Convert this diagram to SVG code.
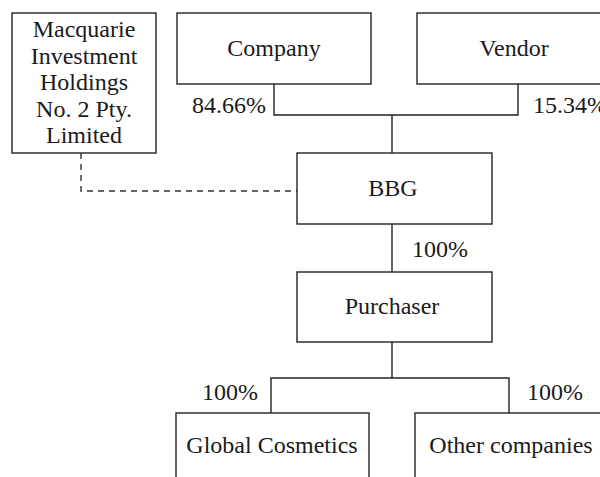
<svg xmlns="http://www.w3.org/2000/svg" width="600" height="477" viewBox="0 0 600 477">
  <style>
    .box { fill: #ffffff; stroke: #222222; stroke-width: 1.4; }
    .ln { fill: none; stroke: #222222; stroke-width: 1.4; }
    .dash { fill: none; stroke: #333333; stroke-width: 1.4; stroke-dasharray: 6 5; }
    text { font-family: "Liberation Serif", "Times New Roman", serif; font-size: 24px; fill: #1a1a1a; }
    .c { text-anchor: middle; }
  </style>
  <rect width="600" height="477" fill="#ffffff"/>

  <!-- connectors -->
  <g id="connectors">
    <path class="ln" d="M274 84 V115 H518 V84"/>
    <path class="ln" d="M392 115 V153"/>
    <path class="ln" d="M392 224 V272"/>
    <path class="ln" d="M392 342 V378"/>
    <path class="ln" d="M271 413 V378 H509 V413"/>
    <path class="dash" d="M81 153 V191 H297"/>
    <text x="192" y="113">84.66%</text>
    <text x="533" y="113">15.34%</text>
    <text x="412" y="257">100%</text>
    <text x="202" y="400">100%</text>
    <text x="527" y="400">100%</text>
  </g>

  <g id="macquarie">
    <rect class="box" x="12" y="13" width="144" height="140"/>
    <text class="c" x="84" y="37">Macquarie</text>
    <text class="c" x="84" y="64">Investment</text>
    <text class="c" x="84" y="90">Holdings</text>
    <text class="c" x="84" y="117">No. 2 Pty.</text>
    <text class="c" x="84" y="143">Limited</text>
  </g>

  <g id="company">
    <rect class="box" x="177" y="13" width="194" height="71"/>
    <text class="c" x="274" y="56">Company</text>
  </g>

  <g id="vendor">
    <rect class="box" x="417" y="13" width="194" height="71"/>
    <text class="c" x="514" y="56">Vendor</text>
  </g>

  <g id="bbg">
    <rect class="box" x="297" y="153" width="195" height="71"/>
    <text class="c" x="393" y="196">BBG</text>
  </g>

  <g id="purchaser">
    <rect class="box" x="297" y="272" width="195" height="70"/>
    <text class="c" x="392" y="314">Purchaser</text>
  </g>

  <g id="global-cosmetics">
    <rect class="box" x="176" y="413" width="193" height="80"/>
    <text class="c" x="272" y="453">Global Cosmetics</text>
  </g>

  <g id="other-companies">
    <rect class="box" x="415" y="413" width="194" height="80"/>
    <text class="c" x="511" y="453">Other companies</text>
  </g>
</svg>
